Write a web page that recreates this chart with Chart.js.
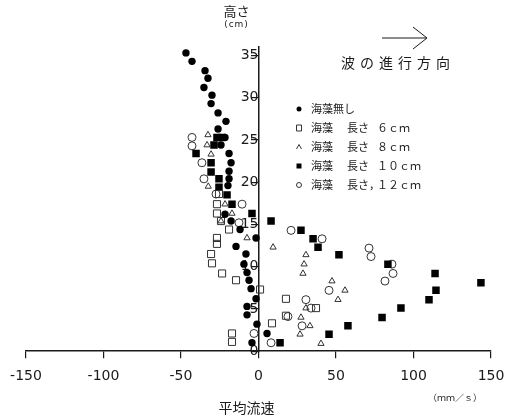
<!DOCTYPE html>
<html lang="ja">
<head>
<meta charset="UTF-8">
<title>平均流速の鉛直分布</title>
<script src="https://cdn.jsdelivr.net/npm/chart.js"></script>
<style>
  html, body { margin: 0; padding: 0; background: #fff; }
  #wrap { width: 506px; height: 416px; }
</style>
</head>
<body>
<div id="wrap"><canvas id="flowChart" width="506" height="416"></canvas></div>
<script>
// 測定点 [平均流速 (mm/s), 高さ (cm)]
const noAlgae = [
  [-46.8, 35.3], [-42.9, 34.3], [-34.5, 33.2], [-32.6, 32.3], [-35.2, 31.2], [-30.0, 30.3],
  [-30.6, 29.3], [-26.1, 28.2], [-21.0, 27.2], [-26.1, 26.3], [-21.6, 25.3], [-24.2, 24.4],
  [-19.0, 23.4], [-17.7, 22.3], [-19.0, 21.3], [-19.0, 20.4], [-19.7, 19.6], [-21.6, 16.2],
  [-17.7, 15.4], [-11.9, 14.4], [-1.6, 13.4], [-14.5, 12.4], [-8.1, 11.5], [-9.4, 10.3],
  [-7.4, 9.3], [-6.1, 8.4], [-4.8, 7.4], [-1.6, 6.2], [-7.4, 5.3], [-7.4, 4.3],
  [-1.0, 3.2], [5.5, 2.1], [-4.2, 1.0]
];
const algae6 = [
  [-26.8, 17.4], [-25.5, 18.6], [-26.8, 16.3], [-24.2, 15.4], [-19.0, 14.4], [-26.8, 13.4],
  [-26.8, 12.7], [-30.6, 11.5], [-30.0, 10.4], [-23.5, 9.2], [-14.5, 8.4], [1.0, 7.3],
  [17.7, 6.2], [17.7, 4.2], [8.7, 3.3], [37.1, 5.1], [-17.1, 2.1], [-17.1, 1.1]
];
const algae8 = [
  [-32.6, 25.6], [-33.2, 24.4], [-30.6, 23.3], [-32.4, 19.5], [-21.6, 17.4], [-17.1, 16.3],
  [-24.2, 15.4], [-7.4, 13.4], [9.4, 12.3], [30.6, 11.4], [29.4, 10.3], [28.7, 9.2],
  [47.4, 8.3], [55.8, 7.2], [51.3, 6.1], [30.6, 5.1], [27.4, 4.0], [33.2, 3.0],
  [26.8, 2.0], [40.3, 0.9]
];
const algae10 = [
  [-26.8, 25.3], [-23.5, 25.3], [-28.7, 24.4], [-40.3, 23.4], [-30.6, 22.3], [-30.6, 21.2],
  [-25.5, 20.4], [-25.5, 19.4], [-20.3, 18.5], [-17.1, 17.4], [-4.2, 16.3], [8.1, 15.4],
  [27.4, 14.3], [35.2, 13.3], [38.4, 12.3], [51.9, 11.4], [83.5, 10.3], [113.9, 9.2],
  [143.5, 8.1], [114.5, 7.2], [110.0, 6.1], [91.9, 5.1], [79.7, 4.0], [57.7, 3.0],
  [45.5, 2.0], [13.9, 1.0]
];
const algae12 = [
  [-42.9, 25.3], [-42.9, 24.3], [-36.5, 22.3], [-35.2, 20.4], [-27.4, 18.6], [-10.6, 17.4],
  [-12.6, 15.2], [21.0, 14.3], [41.0, 13.3], [71.3, 12.2], [72.6, 11.2], [86.1, 10.3],
  [86.8, 9.2], [81.6, 8.3], [45.5, 7.2], [30.6, 6.1], [33.9, 5.1], [19.0, 4.1],
  [28.1, 3.0], [-2.9, 2.1], [8.1, 1.0]
];

const xTicks = [-150, -100, -50, 0, 50, 100, 150];
const yTicks = [0, 5, 10, 15, 20, 25, 30, 35];

// 凡例の文字: 名前 / 長さ / 値
const legendNames = ['海藻無し', '海藻', '海藻', '海藻', '海藻'];
const legendLengthWords = ['', '長さ', '長さ', '長さ', '長さ，'];
const legendLengths = ['', '６ｃｍ', '８ｃｍ', '１０ｃｍ', '１２ｃｍ'];

const yTitle = '高さ';
const yUnit = '(cm)';
const xTitle = '平均流速';
const xUnit = '（ｍｍ／ｓ）';
const waveText = '波の進行方向';

const toPoints = arr => arr.map(p => ({ x: p[0], y: p[1] }));
const INK = '#1a1a1a';

const markStyles = [
  { pointStyle: 'circle', pointRadius: 3.7, backgroundColor: '#000', borderColor: '#000', borderWidth: 0 },
  { pointStyle: 'rect', pointRadius: 5, backgroundColor: 'rgba(0,0,0,0)', borderColor: '#333', borderWidth: 1 },
  { pointStyle: 'triangle', pointRadius: 3.6, backgroundColor: 'rgba(0,0,0,0)', borderColor: '#333', borderWidth: 1 },
  { pointStyle: 'rect', pointRadius: 5.3, backgroundColor: '#000', borderColor: '#000', borderWidth: 0 },
  { pointStyle: 'circle', pointRadius: 4, backgroundColor: 'rgba(0,0,0,0)', borderColor: '#333', borderWidth: 1 }
];
const seriesData = [noAlgae, algae6, algae8, algae10, algae12];

// 凡例の小さい記号
function drawMark(ctx, i, cx, cy) {
  ctx.save();
  ctx.lineWidth = 1;
  ctx.strokeStyle = '#333';
  ctx.fillStyle = '#000';
  ctx.beginPath();
  if (i === 0) { ctx.arc(cx, cy, 2.5, 0, Math.PI * 2); ctx.fill(); }
  else if (i === 1) { ctx.rect(cx - 2.5, cy - 3, 5, 6); ctx.stroke(); }
  else if (i === 2) { ctx.moveTo(cx - 2.5, cy + 2); ctx.lineTo(cx, cy - 2.5); ctx.lineTo(cx + 2.5, cy + 2); ctx.stroke(); }
  else if (i === 3) { ctx.rect(cx - 2.5, cy - 2.5, 5, 5); ctx.fill(); }
  else { ctx.arc(cx, cy, 2.5, 0, Math.PI * 2); ctx.stroke(); }
  ctx.restore();
}

const annotations = {
  id: 'annotations',
  afterDraw(chart) {
    const ctx = chart.ctx;
    const xs = chart.scales.x;
    const area = chart.chartArea;
    const x0 = xs.getPixelForValue(0);
    ctx.save();
    ctx.fillStyle = INK;
    ctx.strokeStyle = INK;
    ctx.textBaseline = 'middle';

    // 縦軸の名前
    ctx.textAlign = 'center';
    ctx.font = '13px "Noto Sans CJK JP"';
    ctx.fillText(yTitle, x0 - 22, 11);
    ctx.font = '9px "DejaVu Sans"';
    ctx.letterSpacing = '1px';
    ctx.fillText(yUnit, x0 - 22, 25);
    ctx.letterSpacing = '0px';

    // 横軸の名前と単位
    ctx.font = '14px "Noto Sans CJK JP"';
    ctx.fillText(xTitle, x0 - 12, 408);
    ctx.font = '9px "Noto Sans CJK JP"';
    ctx.fillText(xUnit, area.right - 36, 398);

    // 波の進行方向の矢印
    ctx.lineWidth = 1;
    ctx.beginPath();
    ctx.moveTo(382, 38); ctx.lineTo(427, 38);
    ctx.moveTo(413, 27); ctx.lineTo(427, 38); ctx.lineTo(413, 49);
    ctx.stroke();
    ctx.font = '14px "Noto Sans CJK JP"';
    ctx.letterSpacing = '5px';
    ctx.fillText(waveText, 398, 63);
    ctx.letterSpacing = '0px';

    // 凡例
    ctx.textAlign = 'left';
    ctx.font = '11px "Noto Sans CJK JP"';
    const rows = [109, 128, 147, 166, 185];
    rows.forEach((ry, i) => {
      drawMark(ctx, i, 299, ry);
      ctx.fillText(legendNames[i], 311, ry);
      if (legendLengthWords[i]) ctx.fillText(legendLengthWords[i], 347, ry);
      if (legendLengths[i]) ctx.fillText(legendLengths[i], 377, ry);
    });
    ctx.restore();
  }
};

new Chart(document.getElementById('flowChart'), {
  type: 'scatter',
  data: {
    datasets: seriesData.map((d, i) => Object.assign({
      label: (legendNames[i] + ' ' + legendLengths[i]).trim(),
      data: toPoints(d)
    }, markStyles[i]))
  },
  options: {
    responsive: false,
    animation: false,
    devicePixelRatio: 1,
    layout: { padding: { left: 26, right: 15, top: 47, bottom: 21 } },
    plugins: { legend: { display: false }, tooltip: { enabled: false } },
    scales: {
      x: {
        type: 'linear',
        position: 'bottom',
        min: -150,
        max: 150,
        afterBuildTicks: s => { s.ticks = xTicks.map(v => ({ value: v })); },
        // 端の目盛ラベル分の余白は layout.padding で確保する
        afterFit: s => { s.paddingLeft = 0; s.paddingRight = 0; },
        grid: { drawOnChartArea: false, drawTicks: true, tickLength: 7, color: INK, lineWidth: 1.2 },
        border: { color: INK, width: 1.5 },
        ticks: { padding: 10, color: INK, font: { family: 'DejaVu Sans', size: 14 } }
      },
      y: {
        type: 'linear',
        position: { x: 0 },
        min: 0,
        max: 36,
        afterBuildTicks: s => { s.ticks = yTicks.map(v => ({ value: v })); },
        grid: { drawOnChartArea: false, drawTicks: true, tickLength: 7, color: INK, lineWidth: 1.2 },
        border: { color: INK, width: 1.5 },
        ticks: { padding: 8, color: INK, font: { family: 'DejaVu Sans', size: 14 } }
      }
    }
  },
  plugins: [annotations]
});
</script>
</body>
</html>
